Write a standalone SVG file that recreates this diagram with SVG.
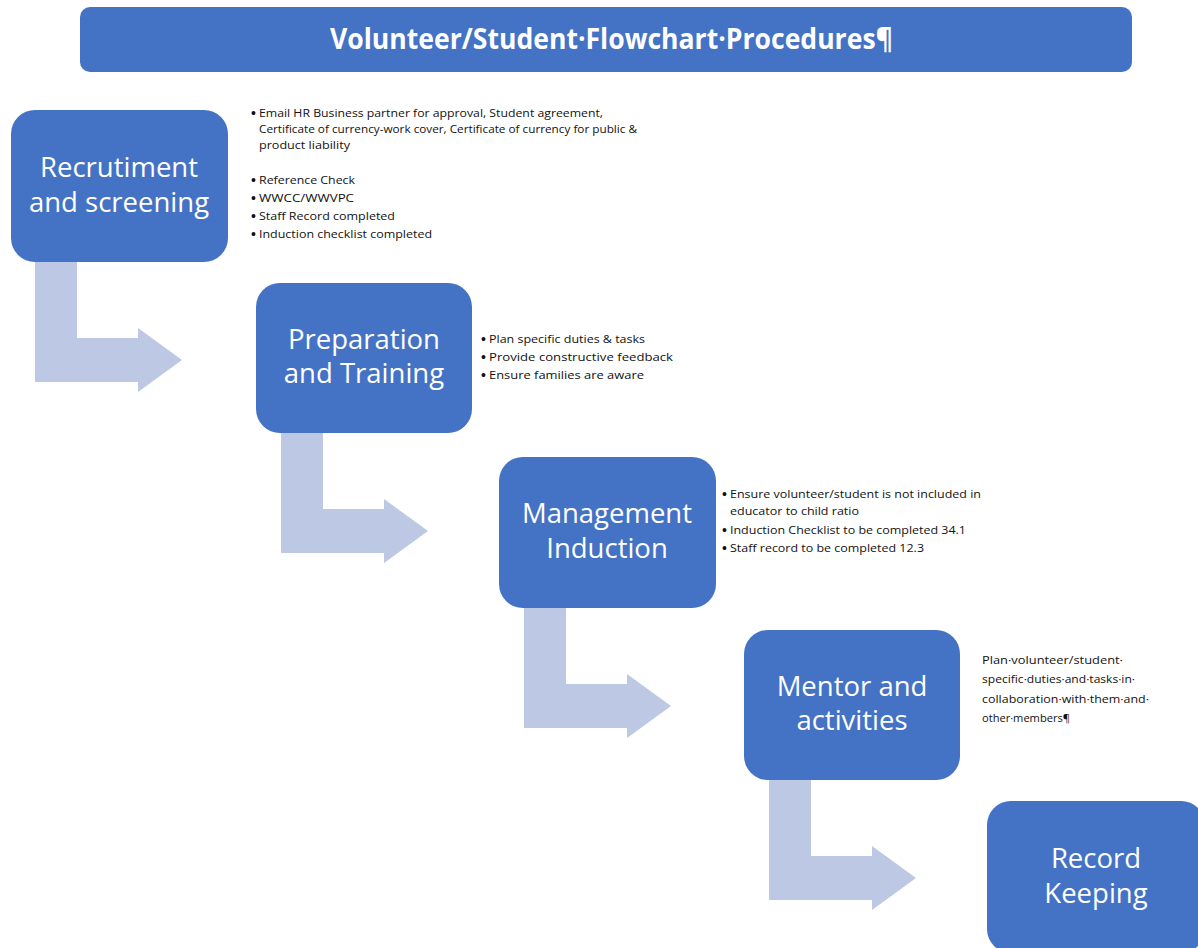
<svg xmlns="http://www.w3.org/2000/svg" xmlns:xlink="http://www.w3.org/1999/xlink" width="1198" height="948" viewBox="0 0 1198 948">
<style>
.box{fill:#4472C4;}
.big{font-family:"Open Sans","Liberation Sans",sans-serif;font-size:27.5px;fill:#ffffff;text-anchor:middle;}
.title{font-family:"Open Sans","Liberation Sans",sans-serif;font-size:28px;font-weight:bold;fill:#ffffff;}
.note{font-family:"Open Sans","Liberation Sans",sans-serif;font-size:11.5px;fill:#111111;}
.bul{font-family:"Liberation Sans",sans-serif;font-size:14px;fill:#111111;}
.arrow{fill:#BCC8E4;}
</style>
<defs>
<path id="bent" d="M0,0 h42 v76 h61 v-10 l44,32 l-44,32 v-10 h-103 z"/>
</defs>
<rect width="1198" height="948" fill="#ffffff"/>
<g id="title">
<rect x="80" y="7" width="1052" height="65" rx="10" class="box"/>
<text x="330" y="49" class="title" textLength="563" lengthAdjust="spacingAndGlyphs">Volunteer/Student·Flowchart·Procedures¶</text>
</g>
<g id="connectors">
<use xlink:href="#bent" class="arrow" transform="translate(35,262)"/>
<use xlink:href="#bent" class="arrow" transform="translate(281,433)"/>
<use xlink:href="#bent" class="arrow" transform="translate(524,608)"/>
<use xlink:href="#bent" class="arrow" transform="translate(769,780)"/>
</g>
<g id="node-recruitment">
<rect x="11" y="110" width="217" height="152" rx="24" class="box"/>
<text x="119" y="177" class="big">Recrutiment</text>
<text x="119" y="212" class="big">and screening</text>
</g>
<g id="notes-recruitment" class="note">
<text x="251" y="118" class="bul">•</text>
<text x="259" y="117" textLength="344" lengthAdjust="spacingAndGlyphs">Email HR Business partner for approval, Student agreement,</text>
<text x="259" y="133" textLength="378" lengthAdjust="spacingAndGlyphs">Certificate of currency-work cover, Certificate of currency for public &amp;</text>
<text x="259" y="149" textLength="91" lengthAdjust="spacingAndGlyphs">product liability</text>
<text x="251" y="185" class="bul">•</text>
<text x="259" y="184" textLength="96" lengthAdjust="spacingAndGlyphs">Reference Check</text>
<text x="251" y="203" class="bul">•</text>
<text x="259" y="202" textLength="95" lengthAdjust="spacingAndGlyphs">WWCC/WWVPC</text>
<text x="251" y="221" class="bul">•</text>
<text x="259" y="220" textLength="136" lengthAdjust="spacingAndGlyphs">Staff Record completed</text>
<text x="251" y="239" class="bul">•</text>
<text x="259" y="238" textLength="173" lengthAdjust="spacingAndGlyphs">Induction checklist completed</text>
</g>
<g id="node-preparation">
<rect x="256" y="283" width="216" height="150" rx="24" class="box"/>
<text x="364" y="349" class="big">Preparation</text>
<text x="364" y="383" class="big">and Training</text>
</g>
<g id="notes-preparation" class="note">
<text x="481" y="344" class="bul">•</text>
<text x="489" y="343" textLength="156" lengthAdjust="spacingAndGlyphs">Plan specific duties &amp; tasks</text>
<text x="481" y="362" class="bul">•</text>
<text x="489" y="361" textLength="184" lengthAdjust="spacingAndGlyphs">Provide constructive feedback</text>
<text x="481" y="380" class="bul">•</text>
<text x="489" y="379" textLength="155" lengthAdjust="spacingAndGlyphs">Ensure families are aware</text>
</g>
<g id="node-management">
<rect x="499" y="457" width="217" height="151" rx="24" class="box"/>
<text x="607" y="523" class="big">Management</text>
<text x="607" y="558" class="big">Induction</text>
</g>
<g id="notes-management" class="note">
<text x="722" y="499" class="bul">•</text>
<text x="730" y="498" textLength="251" lengthAdjust="spacingAndGlyphs">Ensure volunteer/student is not included in</text>
<text x="730" y="515" textLength="129" lengthAdjust="spacingAndGlyphs">educator to child ratio</text>
<text x="722" y="535" class="bul">•</text>
<text x="730" y="534" textLength="236" lengthAdjust="spacingAndGlyphs">Induction Checklist to be completed 34.1</text>
<text x="722" y="553" class="bul">•</text>
<text x="730" y="552" textLength="194" lengthAdjust="spacingAndGlyphs">Staff record to be completed 12.3</text>
</g>
<g id="node-mentor">
<rect x="744" y="630" width="216" height="150" rx="24" class="box"/>
<text x="852" y="696" class="big">Mentor and</text>
<text x="852" y="730" class="big">activities</text>
</g>
<g id="notes-mentor" class="note">
<text x="982" y="664" textLength="141" lengthAdjust="spacingAndGlyphs">Plan·volunteer/student·</text>
<text x="982" y="683" textLength="153" lengthAdjust="spacingAndGlyphs">specific·duties·and·tasks·in·</text>
<text x="982" y="703" textLength="167" lengthAdjust="spacingAndGlyphs">collaboration·with·them·and·</text>
<text x="982" y="722" textLength="88" lengthAdjust="spacingAndGlyphs">other·members¶</text>
</g>
<g id="node-record">
<rect x="987" y="801" width="218" height="152" rx="24" class="box"/>
<text x="1096" y="868" class="big">Record</text>
<text x="1096" y="903" class="big">Keeping</text>
</g>
</svg>
